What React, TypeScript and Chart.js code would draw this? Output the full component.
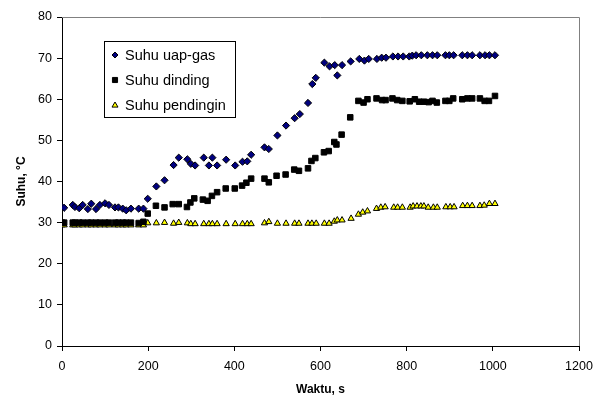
import React, { useEffect, useRef } from "react";
import { Chart, registerables } from "chart.js";

Chart.register(...registerables);

const xTicksMax = 1200;
const yTicksMax = 80;

const gasTime = [0, 5, 25, 30, 40, 48, 60, 68, 79, 88, 100, 109, 123, 131, 141, 149, 160, 178, 189, 199, 219, 238, 259, 271, 291, 299, 309, 329, 341, 349, 360, 381, 402, 419, 430, 439, 470, 480, 500, 520, 540, 552, 571, 581, 589, 609, 621, 633, 639, 650, 670, 690, 702, 712, 731, 742, 752, 768, 780, 792, 806, 813, 822, 834, 848, 860, 871, 890, 899, 909, 929, 941, 952, 970, 982, 992, 1005];
const gasTemp = [33.8, 33.6, 34.3, 33.8, 33.5, 34.3, 33.3, 34.6, 33.3, 34.3, 34.7, 34.3, 33.7, 33.7, 33.4, 33.0, 33.4, 33.4, 33.4, 35.8, 38.8, 40.3, 44.0, 45.8, 45.4, 44.3, 43.9, 45.8, 43.9, 45.8, 43.9, 45.3, 43.9, 44.8, 44.9, 46.5, 48.3, 47.9, 51.2, 53.6, 55.4, 56.4, 59.1, 63.7, 65.2, 68.9, 68.0, 68.3, 65.8, 68.3, 69.2, 69.8, 69.4, 69.8, 69.8, 70.1, 70.1, 70.4, 70.4, 70.4, 70.4, 70.6, 70.7, 70.7, 70.7, 70.7, 70.7, 70.7, 70.7, 70.7, 70.7, 70.7, 70.7, 70.7, 70.7, 70.7, 70.7];

const dindingTime = [0, 5, 25, 30, 40, 48, 60, 68, 79, 88, 100, 109, 123, 131, 141, 149, 160, 178, 189, 199, 218, 238, 257, 271, 290, 298, 307, 327, 338, 348, 360, 380, 401, 418, 428, 439, 470, 480, 498, 519, 539, 550, 571, 579, 588, 608, 619, 632, 637, 649, 669, 688, 700, 709, 730, 743, 751, 767, 778, 790, 807, 819, 829, 840, 851, 860, 870, 890, 899, 908, 929, 941, 952, 970, 981, 991, 1005];
const dindingTemp = [30.0, 30.0, 30.0, 30.0, 30.0, 30.0, 30.0, 30.0, 30.0, 30.0, 30.0, 30.0, 30.0, 30.0, 30.0, 30.0, 30.0, 29.9, 30.2, 32.2, 34.1, 33.7, 34.5, 34.5, 33.8, 34.9, 35.9, 35.6, 35.3, 36.5, 37.4, 38.3, 38.3, 39.0, 39.7, 40.7, 40.7, 39.8, 41.4, 41.7, 42.9, 42.6, 43.2, 45.0, 45.7, 47.1, 47.4, 49.6, 49.0, 51.4, 55.6, 59.6, 59.2, 60.0, 60.2, 59.8, 59.8, 60.2, 59.8, 59.6, 59.5, 60.0, 59.4, 59.4, 59.3, 59.6, 59.2, 59.6, 59.6, 60.2, 60.0, 60.2, 60.2, 60.2, 59.6, 59.6, 60.8];

const pendinginTime = [0, 5, 25, 30, 40, 48, 60, 68, 79, 88, 100, 109, 123, 131, 141, 149, 160, 178, 189, 199, 219, 238, 259, 271, 291, 299, 309, 329, 341, 349, 360, 381, 402, 419, 430, 439, 470, 480, 500, 520, 540, 550, 571, 580, 590, 609, 620, 632, 639, 650, 671, 688, 698, 709, 730, 740, 750, 770, 779, 790, 808, 815, 824, 833, 840, 850, 862, 871, 891, 901, 910, 930, 941, 952, 970, 980, 992, 1005];
const pendinginTemp = [29.4, 29.4, 29.4, 29.4, 29.4, 29.4, 29.4, 29.4, 29.4, 29.4, 29.4, 29.4, 29.4, 29.4, 29.4, 29.4, 29.4, 29.4, 29.4, 29.9, 29.9, 30.0, 29.8, 30.0, 29.9, 29.7, 29.7, 29.7, 29.7, 29.7, 29.7, 29.7, 29.7, 29.7, 29.7, 29.7, 29.9, 30.2, 29.8, 29.8, 29.8, 29.8, 29.8, 29.8, 29.8, 29.8, 29.8, 30.3, 30.6, 30.6, 31.0, 32.0, 32.5, 32.8, 33.4, 33.7, 33.8, 33.7, 33.7, 33.7, 33.7, 34.0, 34.0, 34.0, 34.0, 33.7, 33.7, 33.7, 33.8, 33.8, 33.8, 34.1, 34.1, 34.1, 34.1, 34.2, 34.6, 34.6];

const seriesLabels = ["Suhu uap-gas", "Suhu dinding", "Suhu pendingin"];
const xTitle = "Waktu, s";
const yTitle = "Suhu, °C";

const FONT = "'Liberation Sans', Arial, sans-serif";

const toPoints = (xs: number[], ys: number[]) => xs.map((x, i) => ({ x, y: ys[i] }));

const styles = [
  { pointStyle: "rectRot", backgroundColor: "#000080", borderColor: "#000000", radius: 3.6 },
  { pointStyle: "rect", backgroundColor: "#000000", borderColor: "#000000", radius: 3.9 },
  { pointStyle: "triangle", backgroundColor: "#FFFF00", borderColor: "#000000", radius: 3.6 },
];

function drawMarker(ctx: CanvasRenderingContext2D, style: string, x: number, y: number, r: number) {
  ctx.beginPath();
  if (style === "rectRot") {
    ctx.moveTo(x, y - r);
    ctx.lineTo(x + r, y);
    ctx.lineTo(x, y + r);
    ctx.lineTo(x - r, y);
    ctx.closePath();
  } else if (style === "rect") {
    const s = r * 0.85;
    ctx.rect(x - s, y - s, 2 * s, 2 * s);
  } else {
    ctx.moveTo(x, y - r);
    ctx.lineTo(x + r, y + r * 0.7);
    ctx.lineTo(x - r, y + r * 0.7);
    ctx.closePath();
  }
  ctx.fill();
  ctx.stroke();
}

export default function App() {
  const ref = useRef<HTMLCanvasElement | null>(null);

  useEffect(() => {
    document.body.style.margin = "0";
    const canvas = ref.current;
    if (!canvas) return;

    const framePlugin = {
      id: "frameAndLegend",
      afterDraw(chart: any) {
        const { ctx, chartArea: ca } = chart;
        ctx.save();
        ctx.strokeStyle = "#808080";
        ctx.lineWidth = 1;
        ctx.beginPath();
        ctx.moveTo(ca.left, ca.top + 0.5);
        ctx.lineTo(ca.right + 0.5, ca.top + 0.5);
        ctx.lineTo(ca.right + 0.5, ca.bottom);
        ctx.stroke();

        const bx = ca.left + 42;
        const by = ca.top + 24;
        const bw = 131;
        const bh = 76;
        ctx.fillStyle = "#ffffff";
        ctx.fillRect(bx, by, bw, bh);
        ctx.strokeStyle = "#000000";
        ctx.strokeRect(bx + 0.5, by + 0.5, bw, bh);
        ctx.font = `14.5px ${FONT}`;
        ctx.textBaseline = "middle";
        ctx.textAlign = "left";
        seriesLabels.forEach((label, i) => {
          const cy = by + 14 + i * 25;
          const st = styles[i];
          ctx.fillStyle = st.backgroundColor;
          ctx.strokeStyle = st.borderColor;
          ctx.lineWidth = 1;
          drawMarker(ctx, st.pointStyle, bx + 11, cy, 3);
          ctx.fillStyle = "#000000";
          ctx.fillText(label, bx + 21, cy + 0.5);
        });
        ctx.restore();
      },
    };

    const datasets = [
      { label: seriesLabels[0], data: toPoints(gasTime, gasTemp) },
      { label: seriesLabels[1], data: toPoints(dindingTime, dindingTemp) },
      { label: seriesLabels[2], data: toPoints(pendinginTime, pendinginTemp) },
    ].map((d, i) => ({
      ...d,
      showLine: false,
      pointStyle: styles[i].pointStyle,
      pointRadius: styles[i].radius,
      pointBackgroundColor: styles[i].backgroundColor,
      pointBorderColor: styles[i].borderColor,
      pointBorderWidth: 1,
    }));

    const chart = new Chart(canvas, {
      type: "scatter",
      data: { datasets },
      options: {
        animation: false,
        responsive: false,
        devicePixelRatio: 1,
        layout: { padding: { top: 17, right: 28, left: 0, bottom: 0 } },
        plugins: { legend: { display: false }, tooltip: { enabled: false } },
        scales: {
          x: {
            type: "linear",
            min: 0,
            max: xTicksMax,
            ticks: { stepSize: 200, color: "#000", padding: 8, font: { family: FONT, size: 12.5 }, callback: (v: any) => String(v) },
            grid: { drawOnChartArea: false, drawTicks: true, tickLength: 5, tickColor: "#000" },
            border: { display: true, color: "#000", width: 1 },
            title: { display: true, text: xTitle, color: "#000", font: { family: FONT, size: 12, weight: "bold" }, padding: { top: 3, bottom: 3 } },
            afterFit: (s: any) => { s.height = 54; },
          },
          y: {
            type: "linear",
            min: 0,
            max: yTicksMax,
            ticks: { stepSize: 10, color: "#000", padding: 5, font: { family: FONT, size: 12.5 }, callback: (v: any) => String(v) },
            grid: { drawOnChartArea: false, drawTicks: true, tickLength: 5, tickColor: "#000" },
            border: { display: true, color: "#000", width: 1 },
            title: { display: true, text: yTitle, color: "#000", font: { family: FONT, size: 12, weight: "bold" }, padding: { top: 14, bottom: 4 } },
            afterFit: (s: any) => { s.width = 62; },
          },
        },
      } as any,
      plugins: [framePlugin],
    });

    return () => chart.destroy();
  }, []);

  return (
    <div style={{ width: 607, height: 400 }}>
      <canvas ref={ref} width={607} height={400} style={{ width: 607, height: 400, display: "block" }} />
    </div>
  );
}
